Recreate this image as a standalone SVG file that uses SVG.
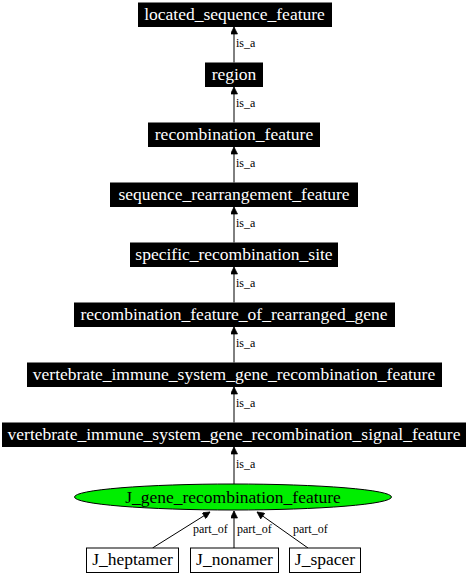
<svg xmlns="http://www.w3.org/2000/svg" width="468" height="576" viewBox="0 0 468 576">
<style>
.box{fill:#000;stroke:#000;stroke-width:1}
.lbl{font-family:"Liberation Serif","Times New Roman",serif;font-size:17.5px;fill:#fff;text-anchor:middle}
.dark{fill:#000}
.el{font-family:"Liberation Serif","Times New Roman",serif;font-size:12px;fill:#000}
.edge{stroke:#000;stroke-width:1;fill:none}
.wbox{fill:#fff;stroke:#000;stroke-width:1}
</style>
<defs>
<marker id="ah" viewBox="0 0 10 10" refX="10" refY="5" markerWidth="10" markerHeight="7" markerUnits="userSpaceOnUse" orient="auto">
<path d="M0,0L10,5L0,10z" fill="#000" stroke="#000" stroke-width="1"/>
</marker>
</defs>
<rect width="468" height="576" fill="#fff"/>
<g id="connectors">
<line class="edge" x1="234" y1="62.5" x2="234" y2="27" marker-end="url(#ah)"/>
<text class="el" x="236" y="47">is_a</text>
<line class="edge" x1="234" y1="122.5" x2="234" y2="87" marker-end="url(#ah)"/>
<text class="el" x="236" y="107">is_a</text>
<line class="edge" x1="234" y1="182.5" x2="234" y2="147" marker-end="url(#ah)"/>
<text class="el" x="236" y="167">is_a</text>
<line class="edge" x1="234" y1="242.5" x2="234" y2="207" marker-end="url(#ah)"/>
<text class="el" x="236" y="227">is_a</text>
<line class="edge" x1="234" y1="302.5" x2="234" y2="267" marker-end="url(#ah)"/>
<text class="el" x="236" y="287">is_a</text>
<line class="edge" x1="234" y1="362.5" x2="234" y2="327" marker-end="url(#ah)"/>
<text class="el" x="236" y="347">is_a</text>
<line class="edge" x1="234" y1="422.5" x2="234" y2="387" marker-end="url(#ah)"/>
<text class="el" x="236" y="407">is_a</text>
<line class="edge" x1="234" y1="484" x2="234" y2="447" marker-end="url(#ah)"/>
<text class="el" x="236" y="468">is_a</text>
<line class="edge" x1="152.5" y1="548" x2="210" y2="512" marker-end="url(#ah)"/>
<text class="el" x="193" y="533">part_of</text>
<line class="edge" x1="234" y1="548" x2="234" y2="511" marker-end="url(#ah)"/>
<text class="el" x="237" y="533">part_of</text>
<line class="edge" x1="308" y1="548" x2="257" y2="512" marker-end="url(#ah)"/>
<text class="el" x="293" y="533">part_of</text>
</g>
<g id="n1"><rect class="box" x="138.5" y="3" width="193" height="23.5"/><text class="lbl" x="234.5" y="19.5">located_sequence_feature</text></g>
<g id="n2"><rect class="box" x="205.5" y="63" width="57" height="23.5"/><text class="lbl" x="234" y="79.5">region</text></g>
<g id="n3"><rect class="box" x="148.5" y="123" width="171" height="23.5"/><text class="lbl" x="234" y="139.5">recombination_feature</text></g>
<g id="n4"><rect class="box" x="110.5" y="183" width="247" height="23.5"/><text class="lbl" x="234" y="199.5">sequence_rearrangement_feature</text></g>
<g id="n5"><rect class="box" x="130.5" y="243" width="207" height="23.5"/><text class="lbl" x="234" y="259.5">specific_recombination_site</text></g>
<g id="n6"><rect class="box" x="74.5" y="303" width="320" height="23.5"/><text class="lbl" x="234" y="319.5">recombination_feature_of_rearranged_gene</text></g>
<g id="n7"><rect class="box" x="27.5" y="363" width="414" height="23.5"/><text class="lbl" x="234" y="379.5">vertebrate_immune_system_gene_recombination_feature</text></g>
<g id="n8"><rect class="box" x="2.5" y="423" width="463" height="23.5"/><text class="lbl" x="234" y="439.5">vertebrate_immune_system_gene_recombination_signal_feature</text></g>
<g id="n9"><ellipse cx="233" cy="497" rx="158.5" ry="13" fill="#00ee00" stroke="#000" stroke-width="1"/><text class="lbl dark" x="233" y="503">J_gene_recombination_feature</text></g>
<g id="n10"><rect class="wbox" x="86.5" y="548" width="92" height="24.5"/><text class="lbl dark" x="132.5" y="564.5">J_heptamer</text></g>
<g id="n11"><rect class="wbox" x="190.5" y="548" width="88" height="24.5"/><text class="lbl dark" x="234.5" y="564.5">J_nonamer</text></g>
<g id="n12"><rect class="wbox" x="289.5" y="548" width="71" height="24.5"/><text class="lbl dark" x="325" y="564.5">J_spacer</text></g>
</svg>
